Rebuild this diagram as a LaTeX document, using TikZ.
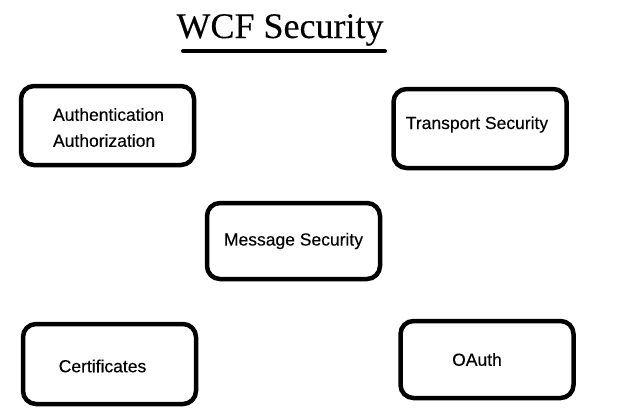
\documentclass[tikz,border=0pt]{standalone}
\usepackage{fontspec}
\setmainfont{Liberation Sans}
\newfontfamily\lblfont{Liberation Sans}[FakeBold=0.25]
\newfontfamily\titlefont{Liberation Serif}[FakeBold=0.15]
\begin{document}
\begin{tikzpicture}[x=1pt,y=-1pt,
  box/.style={draw=black, line width=4.5pt, rounded corners=13pt, fill=white,
    minimum width=#1, minimum height=79pt, inner sep=0pt},
  box/.default=173pt,
  lbl/.style={font=\lblfont\fontsize{17.5}{21}\selectfont, align=left, inner sep=0pt, text=black}]
\useasboundingbox[fill=white] (0,0) rectangle (620,413);
% title
\node[font=\titlefont\fontsize{36}{40}\selectfont, anchor=base, inner sep=0pt] (title) at (280,38) {WCF Security};
\coordinate (ulA) at (183,51);
\coordinate (ulB) at (385,51);
\draw[line width=4pt, line cap=round] (ulA) -- (ulB);
% boxes
\node[box] (auth) at (107.5,125.5) {};
\node[box] (trans) at (480,128.5) {};
\node[box, minimum height=76pt] (msg) at (293.5,241) {};
\node[box, minimum height=80pt] (cert) at (109.5,364) {};
\node[box, minimum height=77pt] (oauth) at (487,359.5) {};
% labels
\node[lbl, anchor=center] (authT) at ([xshift=1pt,yshift=-2pt]auth.center) {Authentication\\[5pt]Authorization};
\node[lbl] (transT) at ([xshift=-3pt,yshift=4pt]trans.center) {Transport Security};
\node[lbl] (msgT) at ([xshift=0pt,yshift=0pt]msg.center) {Message Security};
\node[lbl] (certT) at ([xshift=-7pt,yshift=-2pt]cert.center) {Certificates};
\node[lbl] (oauthT) at ([xshift=-10pt,yshift=0pt]oauth.center) {OAuth};
\end{tikzpicture}
\end{document}
